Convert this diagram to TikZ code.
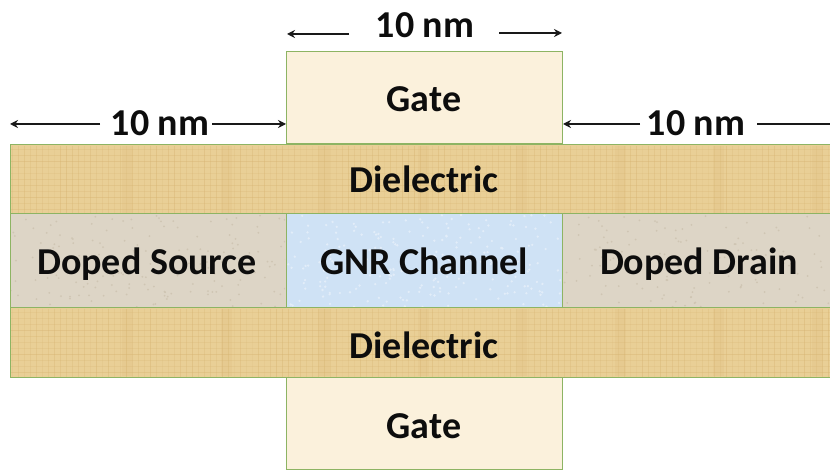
\documentclass[tikz,border=0pt]{standalone}
\usepackage{fontspec}
\setmainfont{Carlito}
\usetikzlibrary{arrows.meta}
\definecolor{edge}{HTML}{8DB463}
\definecolor{gatefill}{HTML}{FBF1DC}
\definecolor{dielfill}{HTML}{E9CF96}
\definecolor{dielline}{HTML}{D6B26F}
\definecolor{dopedfill}{HTML}{DDD5C6}
\definecolor{dopedspeck}{HTML}{CFC5B3}
\definecolor{chanfill}{HTML}{CFE2F5}
\definecolor{chanspeck}{HTML}{E2EDF9}
\tikzset{
  layer/.style={rectangle,draw=edge,line width=1pt,inner sep=0pt},
  lab/.style={inner sep=0pt,anchor=base,font=\fontsize{38}{40}\selectfont\bfseries,text=black!95},
  dimline/.style={draw=black!90,line width=1.2pt,-{Stealth[length=8pt,width=8pt]}},
}
\begin{document}
\begin{tikzpicture}[x=1pt,y=-1pt]
\useasboundingbox[fill=white] (0,0) rectangle (830,470);
% gates
\node[layer,fill=gatefill,minimum width=276pt,minimum height=92pt] (gt) at (424,98) {};
\node[layer,fill=gatefill,minimum width=276pt,minimum height=92pt] (gb) at (424,423.5) {};
% channel row
\node[layer,fill=dopedfill,minimum width=276pt,minimum height=94pt] (src) at (148,261) {};
\node[layer,fill=chanfill,minimum width=276pt,minimum height=94pt] (chn) at (424,261) {};
\node[layer,fill=dopedfill,minimum width=268pt,minimum height=94pt] (drn) at (696,261) {};
% speckle
\pgfmathsetseed{7}
\begin{scope}
\clip (11,215) rectangle (285,307) (563,215) rectangle (830,307);
\foreach \i in {1,...,450}{
  \pgfmathsetmacro{\px}{rnd*820+10}\pgfmathsetmacro{\py}{rnd*92+215}
  \fill[dopedspeck] (\px,\py) circle (1pt);}
\end{scope}
\begin{scope}
\clip (287,215) rectangle (561,307);
\foreach \i in {1,...,220}{
  \pgfmathsetmacro{\px}{rnd*274+287}\pgfmathsetmacro{\py}{rnd*92+215}
  \fill[chanspeck] (\px,\py) circle (1.3pt);}
\end{scope}
% dielectrics
\node[layer,fill=dielfill,minimum width=822pt,minimum height=69pt] (dt) at (421,179.5) {};
\node[layer,fill=dielfill,minimum width=822pt,minimum height=69pt] (db) at (421,342.5) {};
% weave
\foreach \yo in {146,309}{
  \begin{scope}
  \clip (11,\yo) rectangle (830,\yo+67);
  \foreach \i in {0,...,136}{
    \pgfmathsetmacro{\a}{10+rnd*30}
    \draw[dielline,opacity=\a/100,line width=.7pt] (12+\i*6,\yo) -- ++(0,68);}
  \foreach \i in {0,...,11}{
    \pgfmathsetmacro{\a}{15+rnd*25}
    \draw[dielline,opacity=\a/100,line width=.7pt] (10,\yo+3+\i*6) -- ++(820,0);}
  \foreach \i in {0,...,7}{
    \fill[dielline,opacity=.14] (122+\i*98.5,\yo) rectangle ++(11,67);}
  \end{scope}
  \draw[edge,line width=1pt] (10,\yo-1) -- (830,\yo-1);
  \draw[edge,line width=1pt] (10,\yo+68) -- (830,\yo+68);
}
% labels
\node[lab] (lgt) at (424,112) {Gate};
\node[lab] (lgb) at (424,438) {Gate};
\node[lab] (ldt) at (424,193) {Dielectric};
\node[lab] (ldb) at (424,358) {Dielectric};
\node[lab] (lsr) at (147,275) {Doped Source};
\node[lab] (lch) at (424,275) {GNR Channel};
\node[lab] (ldr) at (699,275) {Doped Drain};
% dimensions
\node[lab] (dtop) at (425,38) {10 nm};
\node[lab] (dlft) at (160,136) {10 nm};
\node[lab] (drgt) at (696,136) {10 nm};
\coordinate (a1) at (287,34);
\coordinate (a2) at (562,33);
\coordinate (a3) at (10,124);
\coordinate (a4) at (286,124);
\coordinate (a5) at (563,124);
\coordinate (a6) at (830,124);
\coordinate (s1) at (349,34);
\coordinate (s2) at (499,33);
\coordinate (s3) at (100,124);
\coordinate (s4) at (212,124);
\coordinate (s5) at (640,124);
\coordinate (s6) at (757,124);
\draw[dimline] (s1) -- (a1);
\draw[dimline] (s2) -- (a2);
\draw[dimline] (s3) -- (a3);
\draw[dimline] (s4) -- (a4);
\draw[dimline] (s5) -- (a5);
\draw[draw=black!90,line width=1.2pt] (s6) -- (a6);
\end{tikzpicture}
\end{document}
